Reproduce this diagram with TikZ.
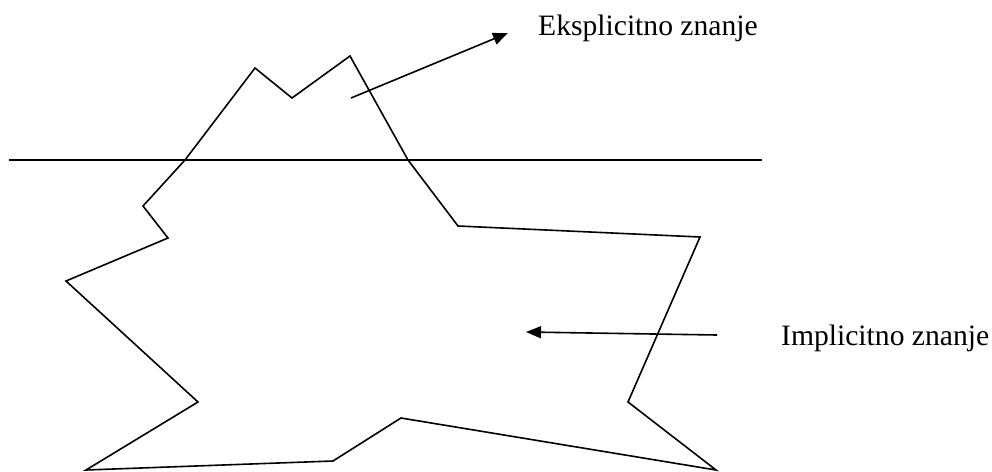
\documentclass[tikz,border=0pt]{standalone}
\usepackage{fontspec}
\setmainfont{Liberation Serif}
\usetikzlibrary{arrows.meta}
\begin{document}
\begin{tikzpicture}[x=1pt,y=-1pt,
  ln/.style={line width=1.6pt,line join=miter},
  arr/.style={line width=1.6pt,-{Triangle[length=15pt,width=12pt]}},
  lbl/.style={font=\fontsize{29.6}{34}\selectfont,inner sep=0pt,anchor=base west}]
\useasboundingbox (0,0) rectangle (992,471);
% waterline
\coordinate (w1) at (9,160);
\coordinate (w2) at (762,160);
\draw[ln] (w1) -- (w2);
% iceberg outline
\draw[ln] (185,160) -- (255,68) -- (292,98) -- (350,56) -- (408,160) -- (458,226)
  -- (700,237) -- (628,402) -- (716,470) -- (401,418) -- (333,461) -- (86,470)
  -- (198,402) -- (66,281) -- (168,238) -- (143,206) -- cycle;
% labels
\node[lbl] (eks) at (538,35) {Eksplicitno znanje};
\node[lbl] (imp) at (781,345) {Implicitno znanje};
% arrows
\coordinate (a1s) at (351,98);
\coordinate (a1e) at (508,33);
\coordinate (a2s) at (717,335);
\coordinate (a2e) at (526,332);
\draw[arr] (a1s) -- (a1e);
\draw[arr] (a2s) -- (a2e);
\end{tikzpicture}
\end{document}
